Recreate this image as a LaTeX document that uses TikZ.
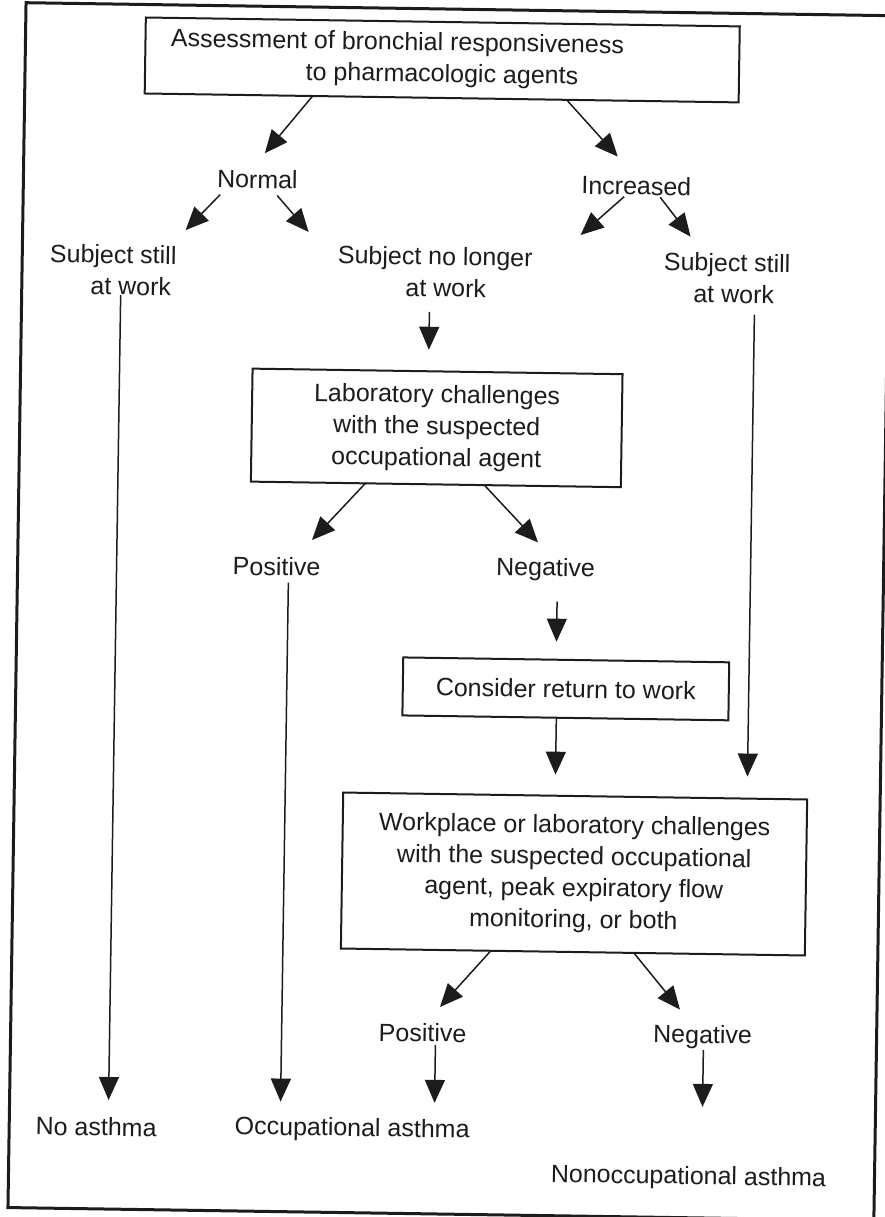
\documentclass[tikz,border=0pt]{standalone}
\usepackage{fontspec}
\setmainfont{Liberation Sans}
\usetikzlibrary{arrows.meta}
\definecolor{ink}{HTML}{1C1C1C}
\begin{document}
\begin{tikzpicture}[x=1pt,y=-1pt,
  every node/.style={font=\fontsize{25}{31.5}\selectfont, text=ink, inner sep=0pt, align=center},
  box/.style={draw=ink, line width=2pt, rectangle},
  link/.style={draw=ink, line width=1.5pt, -{Triangle[length=23pt,width=20pt]}},
  frame/.style={draw=ink, line width=3pt}
]
\useasboundingbox (0,0) rectangle (885,1217);
\begin{scope}[rotate around={-0.86:(442,608)}, transform shape]
\draw[frame] (17,9) rectangle (883,1214);

% boxes
\node[box, minimum width=594pt, minimum height=76pt] (assess) at (434,60)
  {Assessment of bronchial responsiveness\hspace*{90pt}\mbox{}\\to pharmacologic agents};
\node[box, minimum width=370pt, minimum height=113pt] (lab) at (434,428)
  {Laboratory challenges\\with the suspected\\occupational agent};
\node[box, minimum width=326pt, minimum height=58pt] (consider) at (567,687)
  {Consider return to work};
\node[box, minimum width=464pt, minimum height=156pt] (work) at (578,872)
  {Workplace or laboratory challenges\\with the suspected occupational\\agent, peak expiratory flow\\monitoring, or both};

% labels
\node (normal) at (251,182) {Normal};
\node (increased) at (630,183) {Increased};
\node (stillL) at (108,275) {Subject still\\\hspace*{36pt}at work};
\node (nolonger) at (430,272) {Subject no longer\\\hspace*{22pt}at work};
\node (stillR) at (722,274) {Subject still\\\hspace*{14pt}at work};
\node (pos1) at (276,569) {Positive};
\node (neg1) at (545,568) {Negative};
\node (pos2) at (429,1033) {Positive};
\node (neg2) at (709,1033) {Negative};
\node (noasthma) at (104,1132) {No asthma};
\node (occasthma) at (360,1131) {Occupational asthma};
\node (nonocc) at (697,1174) {Nonoccupational asthma};

% connector end points
\coordinate (a1s) at (305,98);  \coordinate (a1e) at (258,156);
\coordinate (a2s) at (559,98);  \coordinate (a2e) at (611,154);
\coordinate (a3s) at (214,198); \coordinate (a3e) at (180,234);
\coordinate (a4s) at (271,198); \coordinate (a4e) at (303,234);
\coordinate (a5s) at (618,194); \coordinate (a5e) at (575,233);
\coordinate (a6s) at (654,194); \coordinate (a6e) at (685,233);
\coordinate (a7s) at (116,300); \coordinate (a7e) at (116,1105);
\coordinate (a8s) at (425,312); \coordinate (a8e) at (425,350);
\coordinate (a9s) at (364,484); \coordinate (a9e) at (311,542);
\coordinate (a10s) at (482,484); \coordinate (a10e) at (537,541);
\coordinate (a11s) at (288,585); \coordinate (a11e) at (288,1104);
\coordinate (a12s) at (557,600); \coordinate (a12e) at (557,640);
\coordinate (a13s) at (558,716); \coordinate (a13e) at (558,773);
\coordinate (a14s) at (750,310); \coordinate (a14e) at (750,772);
\coordinate (a15s) at (496,950); \coordinate (a15e) at (446,1007);
\coordinate (a16s) at (639,950); \coordinate (a16e) at (686,1006);
\coordinate (a17s) at (442,1045); \coordinate (a17e) at (442,1103);
\coordinate (a18s) at (710,1046); \coordinate (a18e) at (710,1103);

% connectors
\draw[link] (a1s) -- (a1e);
\draw[link] (a2s) -- (a2e);
\draw[link] (a3s) -- (a3e);
\draw[link] (a4s) -- (a4e);
\draw[link] (a5s) -- (a5e);
\draw[link] (a6s) -- (a6e);
\draw[link] (a7s) -- (a7e);
\draw[link] (a8s) -- (a8e);
\draw[link] (a9s) -- (a9e);
\draw[link] (a10s) -- (a10e);
\draw[link] (a11s) -- (a11e);
\draw[link] (a12s) -- (a12e);
\draw[link] (a13s) -- (a13e);
\draw[link] (a14s) -- (a14e);
\draw[link] (a15s) -- (a15e);
\draw[link] (a16s) -- (a16e);
\draw[link] (a17s) -- (a17e);
\draw[link] (a18s) -- (a18e);
\end{scope}
\end{tikzpicture}
\end{document}
